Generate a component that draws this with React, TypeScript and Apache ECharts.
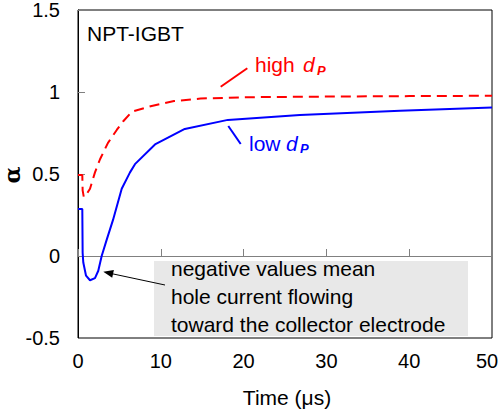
import React, { useEffect, useRef } from "react";
import * as echarts from "echarts";

const timeLow = [0, 0.52, 0.56, 0.64, 0.97, 1.45, 2.05, 2.45, 2.86, 3.47, 4.23, 5.28, 6.28, 6.88, 9.3, 12.9, 18.1, 26.8, 38.9, 50];
const alphaLow = [0.287, 0.287, 0.02, -0.04, -0.12, -0.148, -0.135, -0.09, 0.0, 0.1, 0.22, 0.41, 0.51, 0.56, 0.68, 0.775, 0.83, 0.86, 0.886, 0.906];

const timeHigh = [0, 0.52, 0.56, 0.7, 0.95, 1.45, 2.05, 2.66, 3.62, 4.7, 5.44, 6.5, 8.9, 11.6, 14.8, 20, 30, 40, 50];
const alphaHigh = [0.494, 0.494, 0.4, 0.36, 0.37, 0.41, 0.51, 0.59, 0.69, 0.77, 0.82, 0.88, 0.915, 0.945, 0.96, 0.968, 0.972, 0.975, 0.977];

const xTicks = { min: 0, max: 50, interval: 10 };
const yTicks = { min: -0.5, max: 1.5, interval: 0.5 };

const FONT = 'Arial, "Liberation Sans", sans-serif';

export default function App() {
  const ref = useRef<HTMLDivElement>(null);
  useEffect(() => {
    document.body.style.margin = "0";
    const chart = echarts.init(ref.current!, null, { renderer: "svg" });
    const lowData = timeLow.map((t, i) => [t, alphaLow[i]]);
    const highData = timeHigh.map((t, i) => [t, alphaHigh[i]]);
    chart.setOption({
      animation: false,
      grid: {
        left: 78, top: 10, width: 414, height: 328, show: true, borderColor: "#000", borderWidth: 1,
        backgroundColor: "transparent", containLabel: false, outerBoundsMode: "none",
      },
      xAxis: [
        {
          type: "value", min: xTicks.min, max: xTicks.max, interval: xTicks.interval,
          position: "bottom",
          axisLine: { show: false, onZero: false },
          axisTick: { show: false },
          splitLine: { show: false },
          axisLabel: {
            fontSize: 20, color: "#000", fontFamily: FONT, margin: 13,
            formatter: (v: number) => (v === xTicks.max ? `{m|${v}}` : String(v)),
            rich: { m: { fontSize: 20, color: "#000", fontFamily: FONT, padding: [0, 10, 0, 0] } },
          },
        },
        {
          type: "value", min: xTicks.min, max: xTicks.max, interval: xTicks.interval,
          position: "bottom",
          axisLine: { show: true, onZero: true, lineStyle: { color: "#808080", width: 1 } },
          axisTick: { show: true, inside: true, length: 7, lineStyle: { color: "#808080" } },
          splitLine: { show: false },
          axisLabel: { show: false },
        },
      ],
      yAxis: {
        type: "value", min: yTicks.min, max: yTicks.max, interval: yTicks.interval,
        axisLine: { show: true, lineStyle: { color: "#000" } },
        axisTick: { show: true, inside: true, length: 7, lineStyle: { color: "#808080" } },
        splitLine: { show: false },
        axisLabel: { fontSize: 20, color: "#000", fontFamily: FONT, margin: 18 },
      },
      series: [
        {
          type: "line", name: "low dP", data: lowData, showSymbol: false, xAxisIndex: 0,
          lineStyle: { color: "#0000ff", width: 2 }, z: 5,
        },
        {
          type: "line", name: "high dP", data: highData, showSymbol: false, xAxisIndex: 0,
          lineStyle: { color: "#ff0000", width: 2, type: [10, 6] }, z: 5,
        },
      ],
      graphic: [
        { type: "rect", shape: { x: 154, y: 261, width: 314, height: 75 }, style: { fill: "#e8e8e8" }, z: 1 },
        { type: "text", x: 171, y: 268, style: { text: "negative values mean", font: `21px ${FONT}`, fill: "#000", textVerticalAlign: "middle" }, z: 2 },
        { type: "text", x: 171, y: 296, style: { text: "hole current flowing", font: `21px ${FONT}`, fill: "#000", textVerticalAlign: "middle" }, z: 2 },
        { type: "text", x: 171, y: 324, style: { text: "toward the collector electrode", font: `21px ${FONT}`, fill: "#000", textVerticalAlign: "middle" }, z: 2 },
        { type: "line", shape: { x1: 165, y1: 285, x2: 111, y2: 273.5 }, style: { stroke: "#000", lineWidth: 1 }, z: 10 },
        { type: "polygon", shape: { points: [[103.3, 271.7], [113.9, 270.0], [112.2, 277.8]] }, style: { fill: "#000" }, z: 10 },
        { type: "text", x: 87, y: 33, style: { text: "NPT-IGBT", font: `21px ${FONT}`, fill: "#000", textVerticalAlign: "middle" }, z: 10 },
        { type: "line", shape: { x1: 220.7, y1: 86.7, x2: 247.3, y2: 68.3 }, style: { stroke: "#ff0000", lineWidth: 2 }, z: 10 },
        { type: "text", x: 255, y: 64, style: { text: "high", font: `21px ${FONT}`, fill: "#ff0000", textVerticalAlign: "middle" }, z: 10 },
        { type: "text", x: 303, y: 64, style: { text: "d", font: `italic 21px ${FONT}`, fill: "#ff0000", textVerticalAlign: "middle" }, z: 10 },
        { type: "text", x: 317, y: 70, style: { text: "P", font: `italic bold 13px ${FONT}`, fill: "#ff0000", textVerticalAlign: "middle" }, z: 10 },
        { type: "line", shape: { x1: 228.3, y1: 126, x2: 240.7, y2: 144 }, style: { stroke: "#0000ff", lineWidth: 2 }, z: 10 },
        { type: "text", x: 249, y: 143, style: { text: "low", font: `21px ${FONT}`, fill: "#0000ff", textVerticalAlign: "middle" }, z: 10 },
        { type: "text", x: 286, y: 143, style: { text: "d", font: `italic 21px ${FONT}`, fill: "#0000ff", textVerticalAlign: "middle" }, z: 10 },
        { type: "text", x: 300, y: 148, style: { text: "P", font: `italic bold 13px ${FONT}`, fill: "#0000ff", textVerticalAlign: "middle" }, z: 10 },
        { type: "text", x: 287, y: 397, style: { text: "Time (μs)", font: `21px ${FONT}`, fill: "#000", textAlign: "center", textVerticalAlign: "middle" }, z: 10 },
        { type: "text", x: 12, y: 175, rotation: Math.PI / 2, style: { text: "α", font: `bold 22px "DejaVu Serif", serif`, fill: "#000", textAlign: "center", textVerticalAlign: "middle" }, z: 10 },
      ],
    });
    return () => chart.dispose();
  }, []);
  return <div ref={ref} style={{ position: "absolute", left: 0, top: 0, width: 499, height: 414 }} />;
}
